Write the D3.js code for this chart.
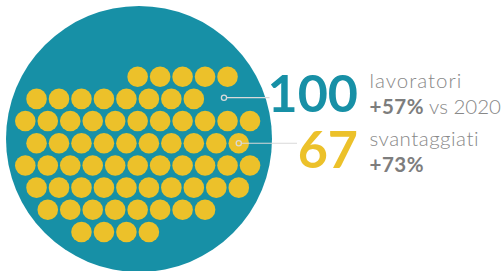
<!DOCTYPE html>
<html><head><meta charset="utf-8">
<script src="https://cdn.jsdelivr.net/npm/d3@7"></script>
<style>html,body{margin:0;padding:0;background:#fff;}svg{display:block;}</style>
</head><body>
<svg id="c" width="501" height="271"></svg>
<script>
// ---- data ----
const totalWorkers = 100;
const disadvantaged = 67;
const totalLabel = "lavoratori";
const totalChangePct = "+57%";
const totalChangeRef = "vs 2020";
const disLabel = "svantaggiati";
const disChangePct = "+73%";
// dots per row and starting column (layout of the 67 icons)
const rowCounts = [5, 8, 11, 10, 11, 10, 8, 4];
const rowStartCol = [5, 0, 0, 0, 0, 0, 1, 2];

const teal = "#1790a6", yellow = "#ecc12a", grey = "#888888", lineCol = "#d9d9d9";
const svg = d3.select("#c");

// big circle
svg.append("circle").attr("cx", 139).attr("cy", 139).attr("r", 133).attr("fill", teal);

// dots built from data
const dots = [];
rowCounts.forEach((n, r) => {
  for (let i = 0; i < n; i++) dots.push({row: r, h: 2 * (rowStartCol[r] + i) + (r % 2)});
});
const x = d3.scaleLinear().domain([0, 20]).range([25.3, 250]);
const y = d3.scaleLinear().domain([0, 7]).range([76.7, 232]);
svg.append("g").selectAll("circle").data(dots).join("circle")
  .attr("cx", d => x(d.h)).attr("cy", d => y(d.row)).attr("r", 10.3).attr("fill", yellow);

// leader lines
const m1 = {x: 224, y: y(1) - 1.2}, m2 = {x: x(19), y: y(3)};
svg.append("line").attr("x1", m1.x + 2.5).attr("x2", 269.5).attr("y1", m1.y).attr("y2", m1.y)
  .attr("stroke", lineCol).attr("stroke-width", 1.2);
svg.append("line").attr("x1", m2.x + 2.5).attr("x2", 297).attr("y1", m2.y).attr("y2", m2.y)
  .attr("stroke", lineCol).attr("stroke-width", 1.2);
[m1, m2].forEach(m => svg.append("circle").attr("cx", m.x).attr("cy", m.y).attr("r", 2.6)
  .attr("fill", "none").attr("stroke", lineCol).attr("stroke-width", 1.3));

// big numbers
const ff = "Lato, 'Open Sans', sans-serif";
svg.append("text").attr("x", 358).attr("y", 111.7).attr("text-anchor", "end")
  .attr("font-family", ff).attr("font-weight", 700).attr("font-size", 52).attr("fill", teal)
  .text(totalWorkers);
svg.append("text").attr("x", 358).attr("y", 168).attr("text-anchor", "end")
  .attr("font-family", ff).attr("font-weight", 700).attr("font-size", 52).attr("fill", yellow)
  .text(disadvantaged);

function label(yy, txt, weight) {
  return svg.append("text").attr("x", 369.5).attr("y", yy).attr("font-family", ff)
    .attr("font-size", 20.5).attr("fill", grey).attr("font-weight", weight).text(txt);
}
label(88, totalLabel, 300).attr("letter-spacing", 1);
const t2 = svg.append("text").attr("x", 369.5).attr("y", 114).attr("font-family", ff)
  .attr("font-size", 20.5).attr("fill", grey);
t2.append("tspan").attr("font-weight", 700).attr("fill", "#7d7d7d").attr("letter-spacing", 0.5).text(totalChangePct);
t2.append("tspan").attr("font-weight", 300).text(" " + totalChangeRef);
label(146, disLabel, 300).attr("letter-spacing", 0.5);
label(171.5, disChangePct, 700).attr("fill", "#7d7d7d").attr("letter-spacing", 0.5);
</script>
</body></html>
